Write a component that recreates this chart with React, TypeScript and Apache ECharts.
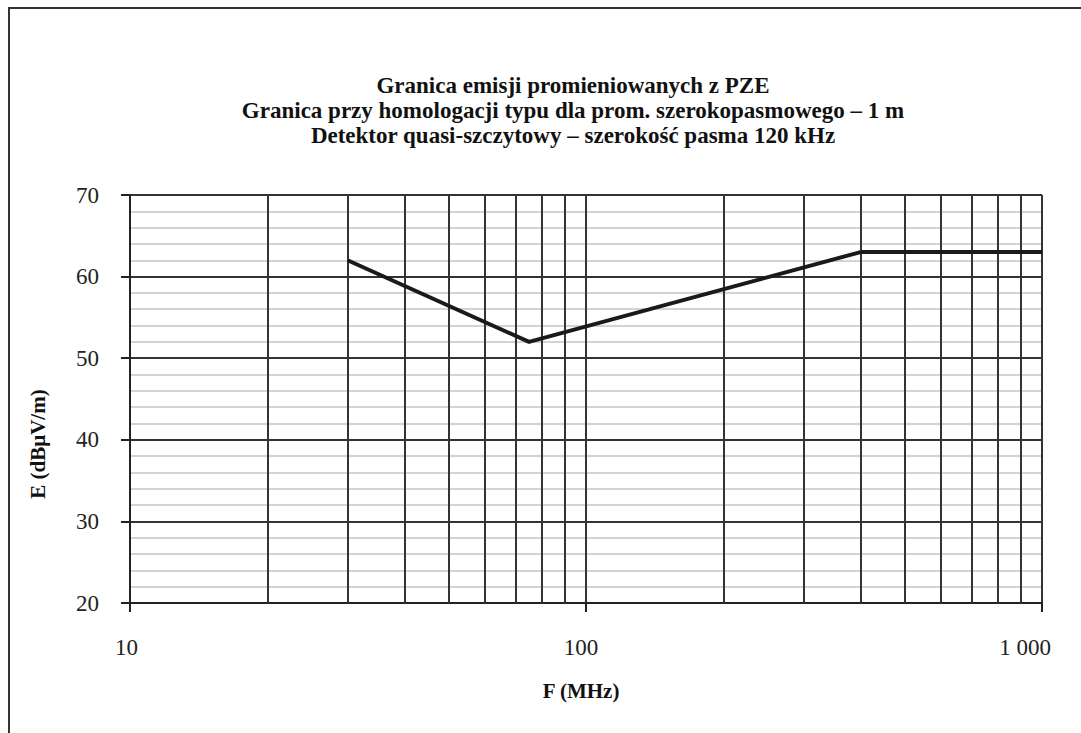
import React, { useEffect, useRef } from "react";
import * as echarts from "echarts";

const titleLines = [
  "Granica emisji promieniowanych z PZE",
  "Granica przy homologacji typu dla prom. szerokopasmowego – 1 m",
  "Detektor quasi-szczytowy – szerokość pasma 120 kHz",
];
const freqMHz = [30, 75, 400, 1000];
const limitDb = [62, 52, 63, 63];
const minorFreqLines = [20, 30, 40, 50, 60, 70, 80, 90, 200, 300, 400, 500, 600, 700, 800, 900];
const xTickLabels: Record<number, string> = { 10: "10", 100: "100", 1000: "1 000" };
const yAxisName = "E (dBμV/m)";
const xAxisName = "F (MHz)";

const SERIF = "'Liberation Serif', 'DejaVu Serif', serif";
const GRID = "#333";

export default function App() {
  const ref = useRef<HTMLDivElement>(null);
  useEffect(() => {
    if (!ref.current) return;
    const chart = echarts.init(ref.current, undefined, { renderer: "svg" });
    const labelRich = {
      l10: { fontFamily: SERIF, fontSize: 23, color: "#222", padding: [0, 7, 0, 0] },
      l100: { fontFamily: SERIF, fontSize: 23, color: "#222", padding: [0, 10, 0, 0] },
      l1000: { fontFamily: SERIF, fontSize: 23, color: "#222", padding: [0, 34, 0, 0] },
    };
    chart.setOption({
      animation: false,
      backgroundColor: "#fff",
      graphic: [
        {
          type: "rect",
          shape: { x: 9, y: 8, width: 1085, height: 760 },
          style: { fill: "none", stroke: "#333", lineWidth: 2 },
          z: 100,
        },
        ...titleLines.map((t, i) => ({
          type: "text",
          x: 573,
          y: 85 + i * 25,
          style: {
            text: t,
            fontFamily: SERIF,
            fontWeight: "bold",
            fontSize: 23,
            fill: "#111",
            textAlign: "center",
            textVerticalAlign: "middle",
          },
        })),
        {
          type: "text",
          x: 38,
          y: 444,
          rotation: Math.PI / 2,
          style: {
            text: yAxisName,
            fontFamily: SERIF,
            fontWeight: "bold",
            fontSize: 21,
            fill: "#111",
            textAlign: "center",
            textVerticalAlign: "middle",
          },
        },
        {
          type: "text",
          x: 581,
          y: 691,
          style: {
            text: xAxisName,
            fontFamily: SERIF,
            fontWeight: "bold",
            fontSize: 21,
            fill: "#111",
            textAlign: "center",
            textVerticalAlign: "middle",
          },
        },
      ],
      grid: { left: 130, right: 39, top: 195, bottom: 130 },
      xAxis: {
        type: "log",
        logBase: 10,
        min: 10,
        max: 1000,
        axisLine: { show: true, lineStyle: { color: "#222", width: 2 } },
        axisTick: { show: true, length: 9, lineStyle: { color: "#222", width: 2 } },
        axisLabel: {
          margin: 33,
          fontFamily: SERIF,
          fontSize: 23,
          color: "#222",
          formatter: (v: number) => {
            const r = Math.round(v);
            const s = xTickLabels[r];
            return s ? `{l${r}|${s}}` : "";
          },
          rich: labelRich,
        },
        splitLine: { show: true, lineStyle: { color: GRID, width: 2 } },
      },
      yAxis: {
        type: "value",
        min: 20,
        max: 70,
        interval: 10,
        axisLine: { show: true, lineStyle: { color: "#222", width: 2 } },
        axisTick: { show: true, length: 9, lineStyle: { color: "#222", width: 2 } },
        axisLabel: {
          margin: 31,
          fontFamily: SERIF,
          fontSize: 23,
          color: "#222",
        },
        splitLine: { show: true, lineStyle: { color: GRID, width: 2 } },
        minorTick: { show: false, splitNumber: 5 },
        minorSplitLine: { show: true, lineStyle: { color: "#c4c4c4", width: 1.5 } },
      },
      series: [
        {
          type: "line",
          data: freqMHz.map((f, i) => [f, limitDb[i]]),
          showSymbol: false,
          lineStyle: { color: "#1a1a1a", width: 4 },
          z: 10,
          markLine: {
            silent: true,
            symbol: "none",
            label: { show: false },
            lineStyle: { color: GRID, width: 2, type: "solid" },
            data: minorFreqLines.map((f) => ({ xAxis: f })),
            z: 1,
          },
        },
      ],
    });
    return () => chart.dispose();
  }, []);
  return (
    <div
      ref={ref}
      style={{ position: "fixed", left: 0, top: 0, width: 1081, height: 733 }}
    />
  );
}
